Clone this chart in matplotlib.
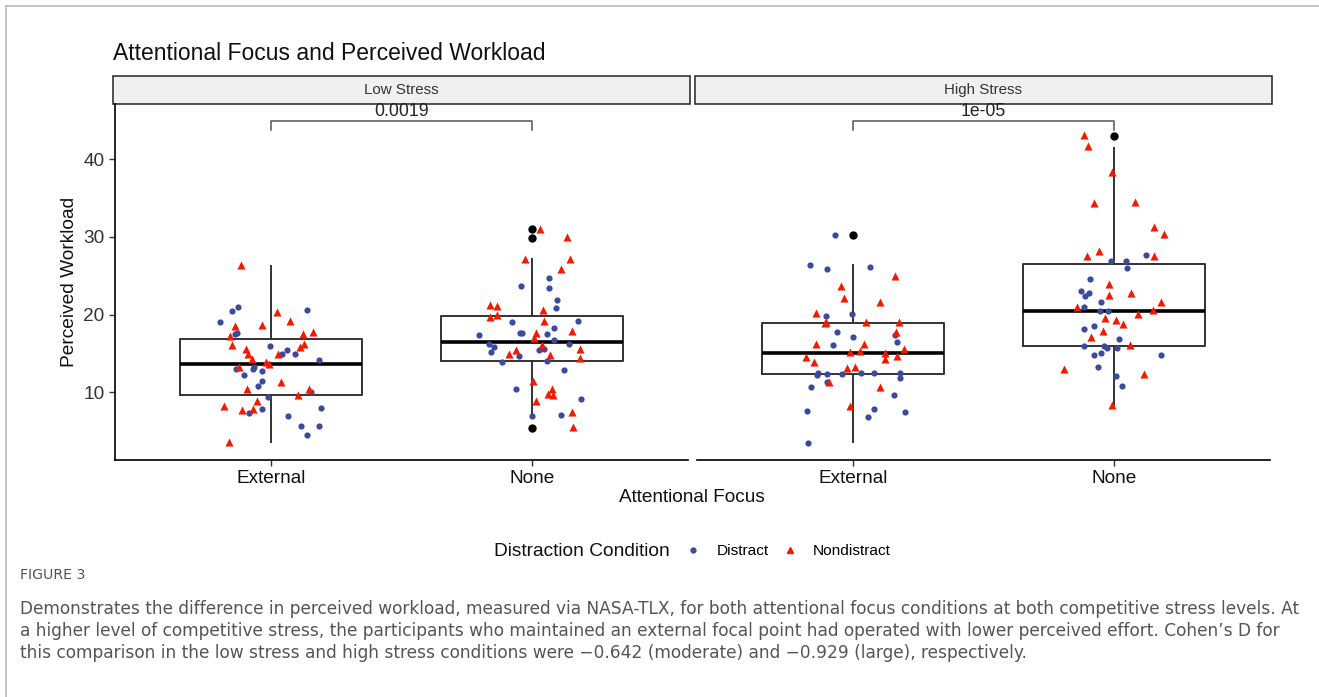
import matplotlib
matplotlib.use("Agg")
import matplotlib.pyplot as plt
from matplotlib.patches import Rectangle
from matplotlib.lines import Line2D

plt.rcParams['font.family'] = ['Liberation Sans', 'DejaVu Sans']

# ---- data ----
panels = ['Low Stress', 'High Stress']
focus = ['External', 'None']
p_values = ['0.0019', '1e-05']

# box stats, order: low/external, low/none, high/external, high/none
box_q1 = [9.65, 14.08, 12.36, 15.96]
box_med = [13.68, 16.52, 15.02, 20.51]
box_q3 = [16.82, 19.87, 18.97, 26.51]
whisk_lo = [3.56, 7.0, 3.56, 8.37]
whisk_hi = [26.25, 27.12, 26.44, 41.48]
outliers = [[], [31.0, 29.9, 5.36], [30.3], [43.0]]

# jittered points: dx = horizontal offset from category, y = workload
low_ext_dis_dx = [-0.127, -0.149, 0.137, -0.196, -0.132, -0.141, -0.005, 0.060, 0.093, 0.042, 0.182, -0.068, -0.134,
                  -0.070, -0.037, -0.104, -0.035, -0.052, 0.154, -0.013, 0.192, -0.037, -0.085, 0.063, 0.114, 0.182, 0.139]
low_ext_dis_y = [21.03, 20.47, 20.60, 19.06, 17.68, 17.51, 16.01, 15.49, 14.89, 14.89, 14.16, 13.30, 13.05,
                 13.05, 12.70, 12.23, 11.46, 10.82, 10.09, 9.36, 8.03, 7.85, 7.34, 7.00, 5.62, 5.71, 4.46]
low_ext_non_dx = [-0.118, 0.023, 0.070, -0.139, -0.035, -0.159, 0.123, 0.160, -0.150, 0.124, 0.111, -0.096, -0.091, 0.024,
                  -0.073, -0.019, -0.008, -0.125, 0.037, -0.095, 0.143, 0.102, -0.053, -0.182, -0.114, -0.072, -0.163]
low_ext_non_y = [26.4, 20.39, 19.23, 18.58, 18.63, 17.25, 17.47, 17.81, 16.09, 16.18, 15.79, 15.54, 14.94, 14.94,
                 14.25, 13.86, 13.65, 13.22, 11.37, 10.47, 10.47, 9.66, 8.93, 8.20, 7.73, 7.90, 3.56]

low_non_dis_dx = [0.065, -0.040, 0.065, 0.097, 0.094, 0.178, -0.074, 0.084, -0.201, -0.044, -0.036, 0.058, 0.087, -0.164,
                  -0.145, -0.157, 0.145, 0.029, 0.049, -0.049, 0.058, -0.113, 0.125, -0.060, 0.191, 0.0, 0.113]
low_non_dis_y = [24.76, 23.69, 23.48, 21.93, 20.86, 19.18, 19.10, 18.28, 17.42, 17.68, 17.68, 17.51, 16.78, 16.27,
                 15.79, 15.24, 16.22, 15.45, 15.54, 14.72, 14.03, 13.86, 12.83, 10.39, 9.10, 7.0, 7.12]
low_non_non_dx = [0.032, 0.134, 0.148, -0.027, 0.114, -0.159, -0.132, -0.132, -0.161, 0.045, 0.046, 0.155, 0.018, 0.009,
                  0.040, 0.184, 0.184, 0.069, -0.060, -0.087, 0.004, 0.076, 0.063, 0.082, 0.017, 0.155, 0.159]
low_non_non_y = [31.07, 30.0, 27.21, 27.21, 25.84, 21.20, 21.16, 20.0, 19.74, 20.56, 19.23, 17.90, 17.68, 17.04,
                 16.09, 15.58, 14.38, 14.76, 15.41, 14.98, 11.50, 10.47, 9.74, 9.70, 8.84, 7.42, 5.49]

high_ext_dis_dx = [-0.072, -0.168, -0.102, 0.064, -0.106, -0.006, -0.061, 0.0, 0.159, 0.168, -0.078, -0.140, -0.136, -0.102,
                   -0.044, 0.031, 0.078, 0.178, 0.178, -0.161, -0.101, 0.155, 0.078, 0.058, 0.200, -0.179, -0.174]
high_ext_dis_y = [30.21, 26.44, 25.88, 26.14, 19.83, 20.13, 17.81, 17.12, 17.34, 16.52, 16.09, 12.23, 12.45, 12.36,
                  12.36, 12.45, 12.49, 12.53, 11.80, 10.64, 11.37, 9.66, 7.81, 6.82, 7.47, 7.55, 3.48]
high_ext_non_dx = [0.160, -0.049, -0.035, 0.102, -0.143, -0.104, -0.108, 0.049, 0.177, 0.163, -0.142, 0.041, -0.013,
                   0.027, 0.120, 0.120, 0.166, 0.196, -0.182, -0.150, -0.023, 0.005, -0.092, 0.102, -0.013]
high_ext_non_y = [25.02, 23.69, 22.10, 21.63, 20.26, 19.10, 18.97, 19.10, 19.01, 17.81, 16.27, 16.22, 15.15,
                  15.32, 15.06, 14.29, 14.72, 15.58, 14.59, 13.91, 13.18, 13.26, 11.29, 10.73, 8.24]

high_non_dis_dx = [0.125, -0.009, 0.046, 0.051, -0.091, -0.127, -0.096, -0.111, -0.049, -0.114, -0.051, -0.022, -0.077,
                   -0.114, 0.019, -0.114, -0.037, -0.026, 0.013, -0.050, -0.076, 0.182, -0.060, 0.010, 0.033]
high_non_dis_y = [27.67, 26.94, 26.94, 26.04, 24.54, 23.04, 22.82, 22.39, 21.66, 21.02, 20.50, 20.50, 18.49,
                  18.19, 16.90, 15.96, 16.0, 15.65, 15.65, 15.01, 14.75, 14.80, 13.30, 12.06, 10.82]
high_non_non_dx = [-0.114, -0.100, -0.006, -0.076, 0.082, 0.156, 0.193, -0.104, -0.055, 0.154, -0.017, -0.018, 0.067,
                   0.182, -0.142, 0.151, 0.093, -0.033, 0.008, 0.037, -0.040, -0.086, 0.064, -0.190, 0.117, -0.008]
high_non_non_y = [43.07, 41.74, 38.35, 34.36, 34.53, 31.27, 30.41, 27.54, 28.14, 27.58, 23.98, 22.57, 22.78,
                  21.66, 21.02, 20.59, 20.03, 19.52, 19.26, 18.79, 17.93, 17.11, 16.08, 13.0, 12.40, 8.37]

distract = [[(low_ext_dis_dx, low_ext_dis_y), (low_non_dis_dx, low_non_dis_y)],
            [(high_ext_dis_dx, high_ext_dis_y), (high_non_dis_dx, high_non_dis_y)]]
nondistract = [[(low_ext_non_dx, low_ext_non_y), (low_non_non_dx, low_non_non_y)],
               [(high_ext_non_dx, high_ext_non_y), (high_non_non_dx, high_non_non_y)]]

blue = '#3A4A9C'
red = '#F21A00'

W, H = 1319, 697
fig = plt.figure(figsize=(W / 100, H / 100), dpi=100)

# card border
fig.add_artist(Line2D([6 / W, 6 / W], [0, 1 - 6 / H], color='#BBBBBB', lw=1.2))
fig.add_artist(Line2D([6 / W, 1], [1 - 6 / H, 1 - 6 / H], color='#BBBBBB', lw=1.2))

ax_left = [115, 697]
for p in range(2):
    ax = fig.add_axes([ax_left[p] / W, (H - 460) / H, 573 / W, 356 / H])
    stats = []
    for c in range(2):
        i = p * 2 + c
        stats.append(dict(med=box_med[i], q1=box_q1[i], q3=box_q3[i],
                          whislo=whisk_lo[i], whishi=whisk_hi[i], fliers=outliers[i]))
    ax.bxp(stats, positions=[1, 2], widths=0.7, showcaps=False,
           boxprops=dict(color='#333333', lw=1.4),
           whiskerprops=dict(color='#333333', lw=1.4),
           medianprops=dict(color='black', lw=2.6),
           flierprops=dict(marker='o', markerfacecolor='black', markeredgecolor='black', markersize=5))
    for c in range(2):
        dx, y = distract[p][c]
        ax.scatter([c + 1 + d for d in dx], y, s=20, color=blue, marker='o', lw=0, zorder=3)
        dx, y = nondistract[p][c]
        ax.scatter([c + 1 + d for d in dx], y, s=34, color=red, marker='^', lw=0, zorder=3)

    # significance bracket
    ax.plot([1, 1, 2, 2], [43.76, 44.95, 44.95, 43.76], color='#555555', lw=1.1)
    ax.text(1.5, 45.1, p_values[p], ha='center', va='bottom', fontsize=12.7, color='#222222')

    ax.set_xlim(0.4, 2.6)
    ax.set_ylim(1.29, 47.1)
    ax.set_xticks([1, 2])
    ax.set_xticklabels(focus)
    ax.set_yticks([10, 20, 30, 40])
    ax.tick_params(axis='both', length=4, width=1, color='#333333', labelsize=13.7, labelcolor='#333333')
    ax.tick_params(axis='x', labelcolor='#111111')
    for s in ['top', 'right']:
        ax.spines[s].set_visible(False)
    ax.spines['bottom'].set_linewidth(1.2)
    ax.spines['left'].set_linewidth(1.2)
    if p == 1:
        ax.spines['left'].set_visible(False)
        ax.tick_params(axis='y', left=False, labelleft=False)

    # facet strip
    ax.add_patch(Rectangle((-0.003, 1.0), 1.006, 28 / 356, transform=ax.transAxes, clip_on=False,
                           facecolor='#F0F0F0', edgecolor='#333333', lw=1.2))
    ax.text(0.5, 1 + 14 / 356, panels[p], transform=ax.transAxes, ha='center', va='center',
            fontsize=10.9, color='#333333')

fig.text(113 / W, 1 - 53 / H, 'Attentional Focus and Perceived Workload', fontsize=16.5,
         va='center', ha='left', color='#111111')
fig.text(70 / W, 1 - 282 / H, 'Perceived Workload', rotation=90, fontsize=13.8, va='center', ha='center',
         color='#111111')
fig.text(692 / W, 1 - 498 / H, 'Attentional Focus', fontsize=13.7, va='center', ha='center', color='#111111')

# legend
fig.text(670 / W, 1 - 551 / H, 'Distraction Condition', fontsize=13.8, va='center', ha='right', color='#111111')
handles = [Line2D([], [], marker='o', color=blue, ls='', markersize=3.5),
           Line2D([], [], marker='^', color=red, ls='', markersize=5)]
fig.legend(handles, ['Distract', 'Nondistract'], ncol=2, frameon=False, fontsize=11.1,
           loc='center left', bbox_to_anchor=(667 / W, 1 - 551 / H), handletextpad=0.7, columnspacing=0.6,
           handlelength=1.6)

# caption
cap_font = ['DejaVu Sans']
fig.text(20 / W, 1 - 575 / H, 'FIGURE 3', fontsize=10.2, color='#555555', va='center', family=cap_font)
caption = ['Demonstrates the difference in perceived workload, measured via NASA-TLX, for both attentional focus conditions at both competitive stress levels. At',
           'a higher level of competitive stress, the participants who maintained an external focal point had operated with lower perceived effort. Cohen\u2019s D for',
           'this comparison in the low stress and high stress conditions were \u22120.642 (moderate) and \u22120.929 (large), respectively.']
for k, line in enumerate(caption):
    fig.text(20 / W, 1 - (609 + 22 * k) / H, line, fontsize=12.25, color='#555555', va='center', family=cap_font)

fig.savefig('out.png', dpi=100)
